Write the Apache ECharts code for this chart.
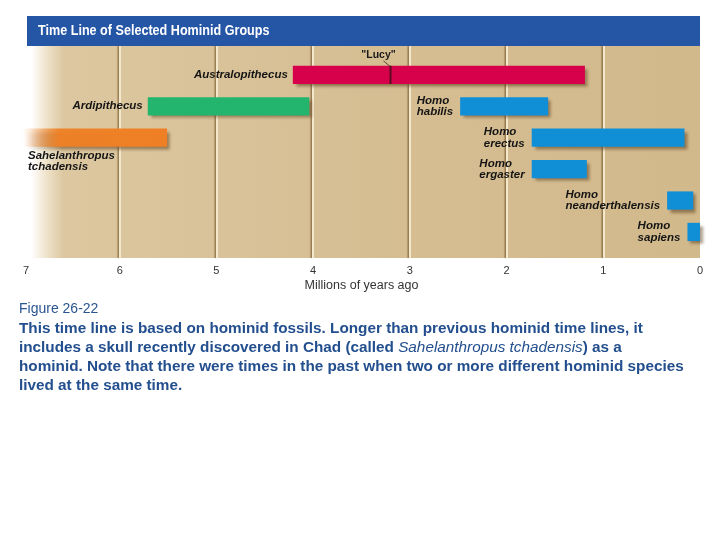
<!DOCTYPE html>
<html>
<head>
<meta charset="utf-8">
<script src="https://cdn.jsdelivr.net/npm/echarts@6/dist/echarts.min.js"></script>
<style>
  html, body { margin: 0; padding: 0; background: #ffffff; }
  #main { width: 720px; height: 540px; }
</style>
</head>
<body>
<div id="main"></div>
<script>
// ---------- DATA ----------
const groups = ['Australopithecus', 'Ardipithecus', 'Sahelanthropus tchadensis', 'Homo habilis',
                'Homo erectus', 'Homo ergaster', 'Homo neanderthalensis', 'Homo sapiens'];
const startMya = [4.21, 5.71, 7.0, 2.48, 1.74, 1.74, 0.34, 0.13];
const endMya   = [1.19, 4.04, 5.51, 1.57, 0.16, 1.17, 0.07, 0.0];
const rowIndex = [0, 1, 2, 1, 2, 3, 4, 5];
const lucyMya = 3.2;
const lucyLabel = '"Lucy"';
const xTicks = [7, 6, 5, 4, 3, 2, 1, 0];
const chartTitle = 'Time Line of Selected Hominid Groups';
const axisTitle = 'Millions of years ago';
const captionLines = [
  'This time line is based on hominid fossils. Longer than previous hominid time lines, it',
  'includes a skull recently discovered in Chad (called {i|Sahelanthropus tchadensis}) as a',
  'hominid. Note that there were times in the past when two or more different hominid species',
  'lived at the same time.'
];
const figureLabel = 'Figure 26-22';

// ---------- STYLES ----------
const barColors = {
  'Australopithecus': '#d6004b',
  'Ardipithecus': '#23b56e',
  'Sahelanthropus tchadensis': 'orangeFade',
  'Homo habilis': '#108fd7', 'Homo erectus': '#108fd7', 'Homo ergaster': '#108fd7',
  'Homo neanderthalensis': '#108fd7', 'Homo sapiens': '#108fd7'
};
const labelSide = {
  'Australopithecus': 'left1', 'Ardipithecus': 'left1', 'Sahelanthropus tchadensis': 'below'
};
const labelFont = 'italic bold 11.5px "Liberation Sans", Arial, sans-serif';
const measureCtx = document.createElement('canvas').getContext('2d');
function textWidth(t, font) { measureCtx.font = font; return measureCtx.measureText(t).width; }

const chart = echarts.init(document.getElementById('main'), null, { renderer: 'canvas' });

function renderBar(params, api) {
  const idx = params.dataIndex;
  const s = api.value(0), e = api.value(1), r = api.value(2);
  const p0 = api.coord([s, r]);
  const p1 = api.coord([e, r]);
  const rowH = api.size([0, 1])[1];
  const h = rowH * 0.58;
  const name = groups[idx];
  let fill = barColors[name];
  if (fill === 'orangeFade') {
    fill = new echarts.graphic.LinearGradient(0, 0, 1, 0, [
      { offset: 0, color: 'rgba(240,128,36,0)' },
      { offset: 0.25, color: 'rgba(240,128,36,0.95)' },
      { offset: 1, color: '#ef7f24' }
    ]);
  }
  const children = [{
    type: 'rect',
    shape: { x: p0[0], y: p0[1] - h / 2, width: p1[0] - p0[0], height: h },
    style: {
      fill: fill,
      shadowBlur: 3, shadowOffsetX: 3, shadowOffsetY: 3,
      shadowColor: 'rgba(90,60,25,0.55)'
    }
  }];
  const side = labelSide[name] || 'left2';
  let txt, tx, ty, va = 'middle';
  if (side === 'left1') {
    txt = name;
    tx = p0[0] - 5 - textWidth(txt, labelFont);
    ty = p0[1];
  } else if (side === 'below') {
    txt = name.replace(' ', '\n');
    tx = p0[0] + 5;
    ty = p0[1] + h / 2 + 3;
    va = 'top';
  } else {
    const parts = name.split(' ');
    txt = parts.join('\n');
    const w = Math.max.apply(null, parts.map(function (p) { return textWidth(p, labelFont); }));
    tx = p0[0] - 7 - w;
    ty = p0[1];
  }
  children.push({
    type: 'text',
    style: {
      text: txt, x: tx, y: ty, align: 'left', verticalAlign: va,
      font: labelFont, fill: '#141414', lineHeight: 11.5
    }
  });
  return { type: 'group', children: children };
}

function renderLucy(params, api) {
  const p = api.coord([api.value(0), api.value(1)]);
  const h = api.size([0, 1])[1] * 0.58;
  return {
    type: 'group',
    children: [
      { type: 'line', shape: { x1: p[0], y1: p[1] - h / 2, x2: p[0], y2: p[1] + h / 2 },
        style: { stroke: '#5c0b22', lineWidth: 2 } },
      { type: 'line', shape: { x1: p[0] - 7, y1: p[1] - 14, x2: p[0], y2: p[1] - h / 2 + 1 },
        style: { stroke: '#3a2a1a', lineWidth: 0.8 } },
      { type: 'text', style: { text: lucyLabel, x: p[0] - 12, y: p[1] - 20, align: 'center',
        verticalAlign: 'middle', font: 'bold 10.5px "Liberation Sans", Arial, sans-serif', fill: '#1a1a1a' } }
    ]
  };
}

const barData = groups.map(function (g, i) { return [startMya[i], endMya[i], rowIndex[i]]; });

const option = {
  animation: false,
  backgroundColor: '#ffffff',
  grid: {
    left: 23, right: 20, top: 46, bottom: 282,
    show: true, borderWidth: 0,
    backgroundColor: new echarts.graphic.LinearGradient(0, 0, 1, 0, [
      { offset: 0, color: '#ffffff' },
      { offset: 0.012, color: '#ffffff' },
      { offset: 0.035, color: '#eee2ca' },
      { offset: 0.06, color: '#dcc7a0' },
      { offset: 0.5, color: '#d6be93' },
      { offset: 1, color: '#d2b98c' }
    ])
  },
  xAxis: {
    type: 'value', min: 0, max: 7, interval: 1, inverse: true,
    name: axisTitle, nameLocation: 'middle', nameGap: 21,
    nameTextStyle: { color: '#333333', fontSize: 12.5, fontFamily: '"Liberation Sans", Arial, sans-serif' },
    axisLine: { show: false }, axisTick: { show: false },
    axisLabel: {
      color: '#333333', fontSize: 11, margin: 7, alignMaxLabel: 'left', alignMinLabel: 'center',
      fontFamily: '"Liberation Sans", Arial, sans-serif',
      formatter: function (v) { return xTicks.indexOf(v) >= 0 ? String(v) : ''; }
    },
    splitLine: {
      show: true, showMinLine: false, showMaxLine: false,
      lineStyle: { color: '#f4e8cc', width: 2, shadowColor: 'rgba(120,88,45,0.7)', shadowOffsetX: -1.5, shadowBlur: 1 }
    }
  },
  yAxis: { type: 'value', inverse: true, min: -0.92, max: 5.83, show: false },
  series: [
    { type: 'custom', renderItem: renderBar, data: barData, clip: false, z: 3 },
    { type: 'custom', renderItem: renderLucy, data: [[lucyMya, 0]], clip: false, z: 4 }
  ],
  graphic: [
    { type: 'rect', left: 27, top: 16, shape: { width: 673, height: 30 }, style: { fill: '#2556a6' }, z: -1 },
    { type: 'text', x: 38, y: 31, scaleX: 0.84, z: 5, style: { text: chartTitle, fill: '#ffffff',
        verticalAlign: 'middle', font: 'bold 15px "Liberation Sans", Arial, sans-serif' } },
    { type: 'text', left: 19, top: 302, style: { text: figureLabel, fill: '#2a5590',
        font: '14px "Liberation Sans", Arial, sans-serif' } },
    { type: 'text', left: 19, top: 319, style: {
        text: captionLines.join('\n'), fill: '#234f8e', lineHeight: 19,
        font: 'bold 15.3px "Liberation Sans", Arial, sans-serif',
        rich: { i: { fontStyle: 'italic', fontWeight: 'normal', fontSize: 15.3, fill: '#234f8e',
          fontFamily: '"Liberation Sans", Arial, sans-serif', lineHeight: 19 } }
      } }
  ]
};
chart.setOption(option);
</script>
</body>
</html>
